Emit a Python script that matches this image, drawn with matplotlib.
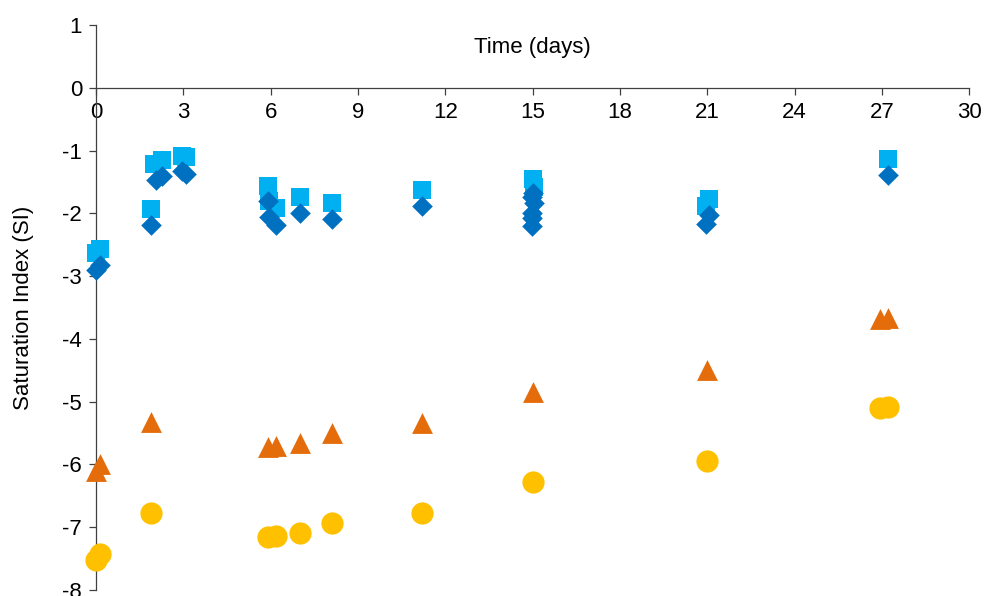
import matplotlib
matplotlib.use("Agg")
import matplotlib.pyplot as plt

# light blue squares
sq_x = [0.0, 0.15, 1.9, 2.0, 2.25, 2.95, 3.1, 5.9, 5.95, 6.2, 7.0, 8.1, 11.2, 15.0, 15.05, 20.95, 21.05, 27.2]
sq_y = [-2.63, -2.57, -1.93, -1.22, -1.15, -1.09, -1.11, -1.57, -1.80, -1.92, -1.74, -1.84, -1.63,
        -1.45, -1.58, -1.89, -1.77, -1.14]

# dark blue diamonds
dm_x = [0.0, 0.15, 1.9, 2.05, 2.25, 2.95, 3.1, 5.9, 5.95, 6.2, 7.0, 8.1, 11.2,
        15.0, 14.97, 15.05, 14.97, 14.97, 14.97, 20.95, 21.05, 27.2]
dm_y = [-2.90, -2.82, -2.19, -1.47, -1.41, -1.33, -1.37, -1.81, -2.06, -2.19, -1.99, -2.09, -1.88,
        -1.68, -1.74, -1.84, -2.00, -2.08, -2.20, -2.17, -2.02, -1.39]

# orange triangles
tr_x = [0.0, 0.15, 1.9, 5.9, 6.2, 7.0, 8.1, 11.2, 15.0, 21.0, 26.95, 27.2]
tr_y = [-6.10, -6.00, -5.33, -5.72, -5.70, -5.66, -5.50, -5.34, -4.84, -4.50, -3.68, -3.66]

# yellow circles
ci_x = [0.0, 0.15, 1.9, 5.9, 6.2, 7.0, 8.1, 11.2, 15.0, 21.0, 26.95, 27.2]
ci_y = [-7.52, -7.43, -6.77, -7.16, -7.14, -7.09, -6.94, -6.78, -6.28, -5.94, -5.10, -5.08]

x_ticks = list(range(0, 31, 3))
y_ticks = list(range(-8, 2))

plt.rcParams["font.family"] = ["Liberation Sans", "DejaVu Sans"]
plt.rcParams["axes.unicode_minus"] = False

fig = plt.figure(figsize=(9.85, 5.96), dpi=100)
ax = fig.add_subplot(111)
fig.subplots_adjust(left=0.0975, right=0.984, top=0.958, bottom=0.010)

ax.scatter(sq_x, sq_y, marker="s", s=12.5 ** 2, color="#00B0F0", linewidths=0, zorder=3, clip_on=False)
ax.scatter(dm_x, dm_y, marker="D", s=10.5 ** 2, color="#0070C0", linewidths=0, zorder=4, clip_on=False)
ax.scatter(tr_x, tr_y, marker="^", s=15 ** 2, color="#E46C0A", linewidths=0, zorder=3, clip_on=False)
ax.scatter(ci_x, ci_y, marker="o", s=16 ** 2, color="#FFC000", linewidths=0, zorder=3, clip_on=False)

ax.set_xlim(0, 30)
ax.set_ylim(-8, 1)
ax.set_xticks(x_ticks)
ax.set_yticks(y_ticks)

ax.spines["top"].set_visible(False)
ax.spines["right"].set_visible(False)
ax.spines["left"].set_position(("data", 0))
ax.spines["bottom"].set_position(("data", 0))
for side in ("left", "bottom"):
    ax.spines[side].set_color("#404040")
    ax.spines[side].set_linewidth(0.9)

ax.tick_params(axis="both", direction="out", length=5, width=0.9, color="#404040",
               labelsize=16, labelcolor="black")
ax.tick_params(axis="x", pad=5)
ax.tick_params(axis="y", pad=5)

ax.set_xlabel("Time (days)", fontsize=16, va="center")
ax.xaxis.set_label_coords(0.5, (0.64 + 8) / 9)
ax.set_ylabel("Saturation Index (SI)", fontsize=16, labelpad=20)

fig.savefig("out.png", dpi=100)
